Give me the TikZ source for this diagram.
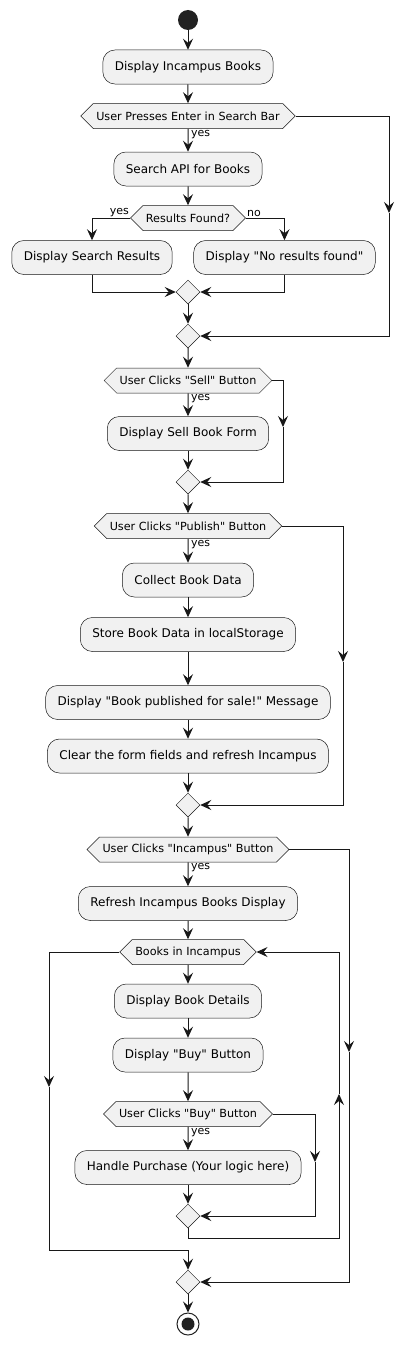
\documentclass[tikz,border=0pt]{standalone}
\usepackage{fontspec}
\setmainfont{DejaVu Sans}[Ligatures=TeXOff]
\usetikzlibrary{shapes.geometric,shapes.symbols,arrows.meta}
\definecolor{umlline}{HTML}{181818}
\definecolor{umlfill}{HTML}{F1F1F1}
\definecolor{umldot}{HTML}{222222}
\begin{document}
\begin{tikzpicture}[x=1pt, y=-1pt,
    act/.style={draw=umlline, line width=0.5pt, fill=umlfill, rounded corners=12pt,
        minimum height=34pt, inner xsep=12pt, font=\fontsize{12}{14}\selectfont},
    cond/.style={draw=umlline, line width=0.5pt, fill=umlfill, shape=signal,
        signal to=west and east, signal pointer angle=90, minimum height=25pt,
        inner xsep=3pt, inner ysep=0pt, font=\fontsize{11.2}{13}\selectfont},
    merge/.style={draw=umlline, line width=0.5pt, fill=umlfill, diamond,
        minimum size=24pt, inner sep=0pt},
    lbl/.style={font=\fontsize{11}{13}\selectfont, inner sep=1pt},
    flow/.style={draw=umlline, line width=1pt,
        -{Stealth[length=11pt,width=10pt,inset=4pt]}}]
    \useasboundingbox (0,0) rectangle (414,1346);

    % Start and search part
    \node[circle, fill=umldot, minimum size=20pt, inner sep=0pt] (start) at (188,20) {};
    \node[act] (a1) at (188,67) {Display Incampus Books};
    \node[cond] (d1) at (188,116) {User Presses Enter in Search Bar};
    \node[act] (a2) at (188,169) {Search API for Books};
    \node[cond] (d2) at (188,218) {Results Found?};
    \node[act] (a3) at (92,257.5) {Display Search Results};
    \node[act] (a4) at (284.5,257.5) {Display "No results found"};
    \node[merge] (m1) at (188,292) {};
    \node[merge] (m2) at (188,336) {};

    \draw[flow] (start) -- (a1);
    \draw[flow] (a1) -- (d1);
    \draw[flow] (d1) -- (a2);
    \node[lbl, anchor=north west] (y1) at ([xshift=2pt]d1.south) {yes};
    \draw[flow] (a2) -- (d2);
    \draw[flow] (d2.west) -| (a3.north);
    \node[lbl, anchor=south east] (y2) at (d2.west) {yes};
    \draw[flow] (d2.east) -| (a4.north);
    \node[lbl, anchor=south west] (n2) at (d2.east) {no};
    \draw[flow] (a3.south) |- (m1.west);
    \draw[flow] (a4.south) |- (m1.east);
    \draw[flow] (m1) -- (m2);
    \coordinate (k1) at (389,213);
    \draw[flow] (d1.east) -| (k1);
    \draw[flow] (k1) |- (m2.east);

    % Sell part
    \node[cond] (d3) at (188,380.5) {User Clicks "Sell" Button};
    \node[act] (a5) at (188,433.5) {Display Sell Book Form};
    \node[merge] (m3) at (188,482) {};

    \draw[flow] (m2) -- (d3);
    \draw[flow] (d3) -- (a5);
    \node[lbl, anchor=north west] (y3) at ([xshift=2pt]d3.south) {yes};
    \draw[flow] (a5) -- (m3);
    \coordinate (k3) at (283,427);
    \draw[flow] (d3.east) -| (k3);
    \draw[flow] (k3) |- (m3.east);

    % Publish part
    \node[cond] (d4) at (188,526) {User Clicks "Publish" Button};
    \node[act] (a6) at (188,580) {Collect Book Data};
    \node[act] (a7) at (188,634.5) {Store Book Data in localStorage};
    \node[act] (a8) at (188,702.5) {Display "Book published for sale!" Message};
    \node[act] (a9) at (188,756) {Clear the form fields and refresh Incampus};
    \node[merge] (m4) at (188,805) {};

    \draw[flow] (m3) -- (d4);
    \draw[flow] (d4) -- (a6);
    \node[lbl, anchor=north west] (y4) at ([xshift=2pt]d4.south) {yes};
    \draw[flow] (a6) -- (a7);
    \draw[flow] (a7) -- (a8);
    \draw[flow] (a8) -- (a9);
    \draw[flow] (a9) -- (m4);
    \coordinate (k4) at (343,662);
    \draw[flow] (d4.east) -| (k4);
    \draw[flow] (k4) |- (m4.east);

    % Incampus part with the loop
    \node[cond] (d5) at (188,849.5) {User Clicks "Incampus" Button};
    \node[act] (a10) at (188,903.5) {Refresh Incampus Books Display};
    \node[cond] (d6) at (188,952) {Books in Incampus};
    \node[act] (a11) at (188,1001) {Display Book Details};
    \node[act] (a12) at (188,1055) {Display "Buy" Button};
    \node[cond] (d7) at (188,1114) {User Clicks "Buy" Button};
    \node[act] (a13) at (188,1167.5) {Handle Purchase (Your logic here)};
    \node[merge] (m5) at (188,1216) {};
    \node[merge] (m6) at (188,1282) {};

    \draw[flow] (m4) -- (d5);
    \draw[flow] (d5) -- (a10);
    \node[lbl, anchor=north west] (y5) at ([xshift=2pt]d5.south) {yes};
    \draw[flow] (a10) -- (d6);
    \draw[flow] (d6) -- (a11);
    \draw[flow] (a11) -- (a12);
    \draw[flow] (a12) -- (d7);
    \draw[flow] (d7) -- (a13);
    \node[lbl, anchor=north west] (y7) at ([xshift=2pt]d7.south) {yes};
    \draw[flow] (a13) -- (m5);
    \coordinate (k7) at (315,1162);
    \draw[flow] (d7.east) -| (k7);
    \draw[flow] (k7) |- (m5.east);

    % back to the loop head
    \coordinate (j5) at (339,1238);
    \coordinate (k5) at (339,1094);
    \draw[flow] (m5.south) |- (j5) -- (k5);
    \draw[flow] (k5) |- (d6.east);

    % leave the loop
    \coordinate (k6) at (49,1087);
    \coordinate (j6) at (188,1250);
    \draw[flow] (d6.west) -| (k6);
    \draw[flow] (k6) |- (j6) -- (m6.north);

    % no click on Incampus
    \coordinate (k8) at (349,1052);
    \draw[flow] (d5.east) -| (k8);
    \draw[flow] (k8) |- (m6.east);

    % Stop
    \node[circle, draw=umldot, line width=1pt, fill=white, minimum size=22pt,
        inner sep=0pt] (stop) at (188,1324) {};
    \fill[umldot] (stop.center) circle (6.5pt);
    \draw[flow] (m6) -- (stop);
\end{tikzpicture}
\end{document}
